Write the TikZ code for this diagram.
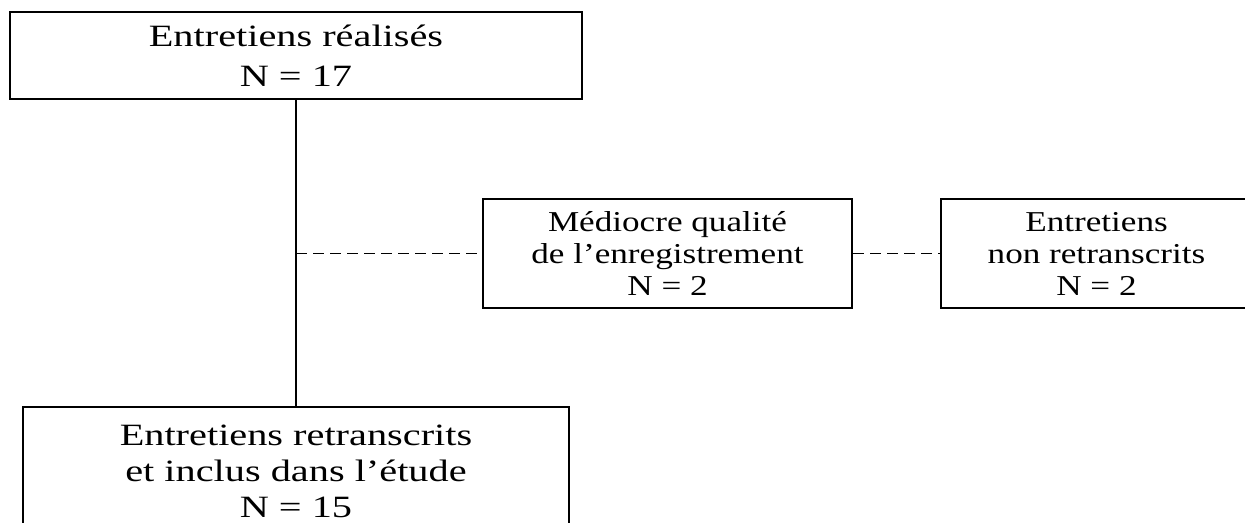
\documentclass[tikz,border=0pt]{standalone}
\usepackage{fontspec}
\newfontfamily\bigfont{Liberation Serif}[FakeStretch=1.3]
\newfontfamily\smallfont{Liberation Serif}[FakeStretch=1.22]
\begin{document}
\begin{tikzpicture}[x=0.5pt,y=-0.5pt,
  box/.style={draw, line width=1.1pt, align=center, inner sep=0pt, anchor=center},
  bigtext/.style={font={\fontsize{15.5}{20}\selectfont\bigfont}},
  midtext/.style={font={\fontsize{14.4}{16}\selectfont\smallfont}},
  link/.style={line width=0.9pt},
  dlink/.style={line width=0.9pt, dash pattern=on 5.5pt off 3pt}]
\useasboundingbox (0,0) rectangle (1245,523);
\node[box, bigtext, minimum width=286pt, minimum height=43.5pt] (top) at (296,55.5)
  {Entretiens réalisés\\N = 17};
\node[box, bigtext, font={\fontsize{15.5}{18}\selectfont\bigfont}, minimum width=273pt, minimum height=64pt] (bot) at (296,471)
  {Entretiens retranscrits\\et inclus dans l’étude\\N = 15};
\node[box, midtext, minimum width=184.5pt, minimum height=54.5pt] (mid) at (667.5,253.5)
  {Médiocre qualité\\de l’enregistrement\\N = 2};
\node[box, midtext, minimum width=155.5pt, minimum height=54.5pt] (right) at (1096.5,253.5)
  {Entretiens\\non retranscrits\\N = 2};
\coordinate (j) at (top.south |- mid.west);
\draw[link] (top.south) -- (bot.north);
\draw[dlink] (j) -- (mid.west);
\draw[dlink] (mid.east) -- (right.west);
\end{tikzpicture}
\end{document}
